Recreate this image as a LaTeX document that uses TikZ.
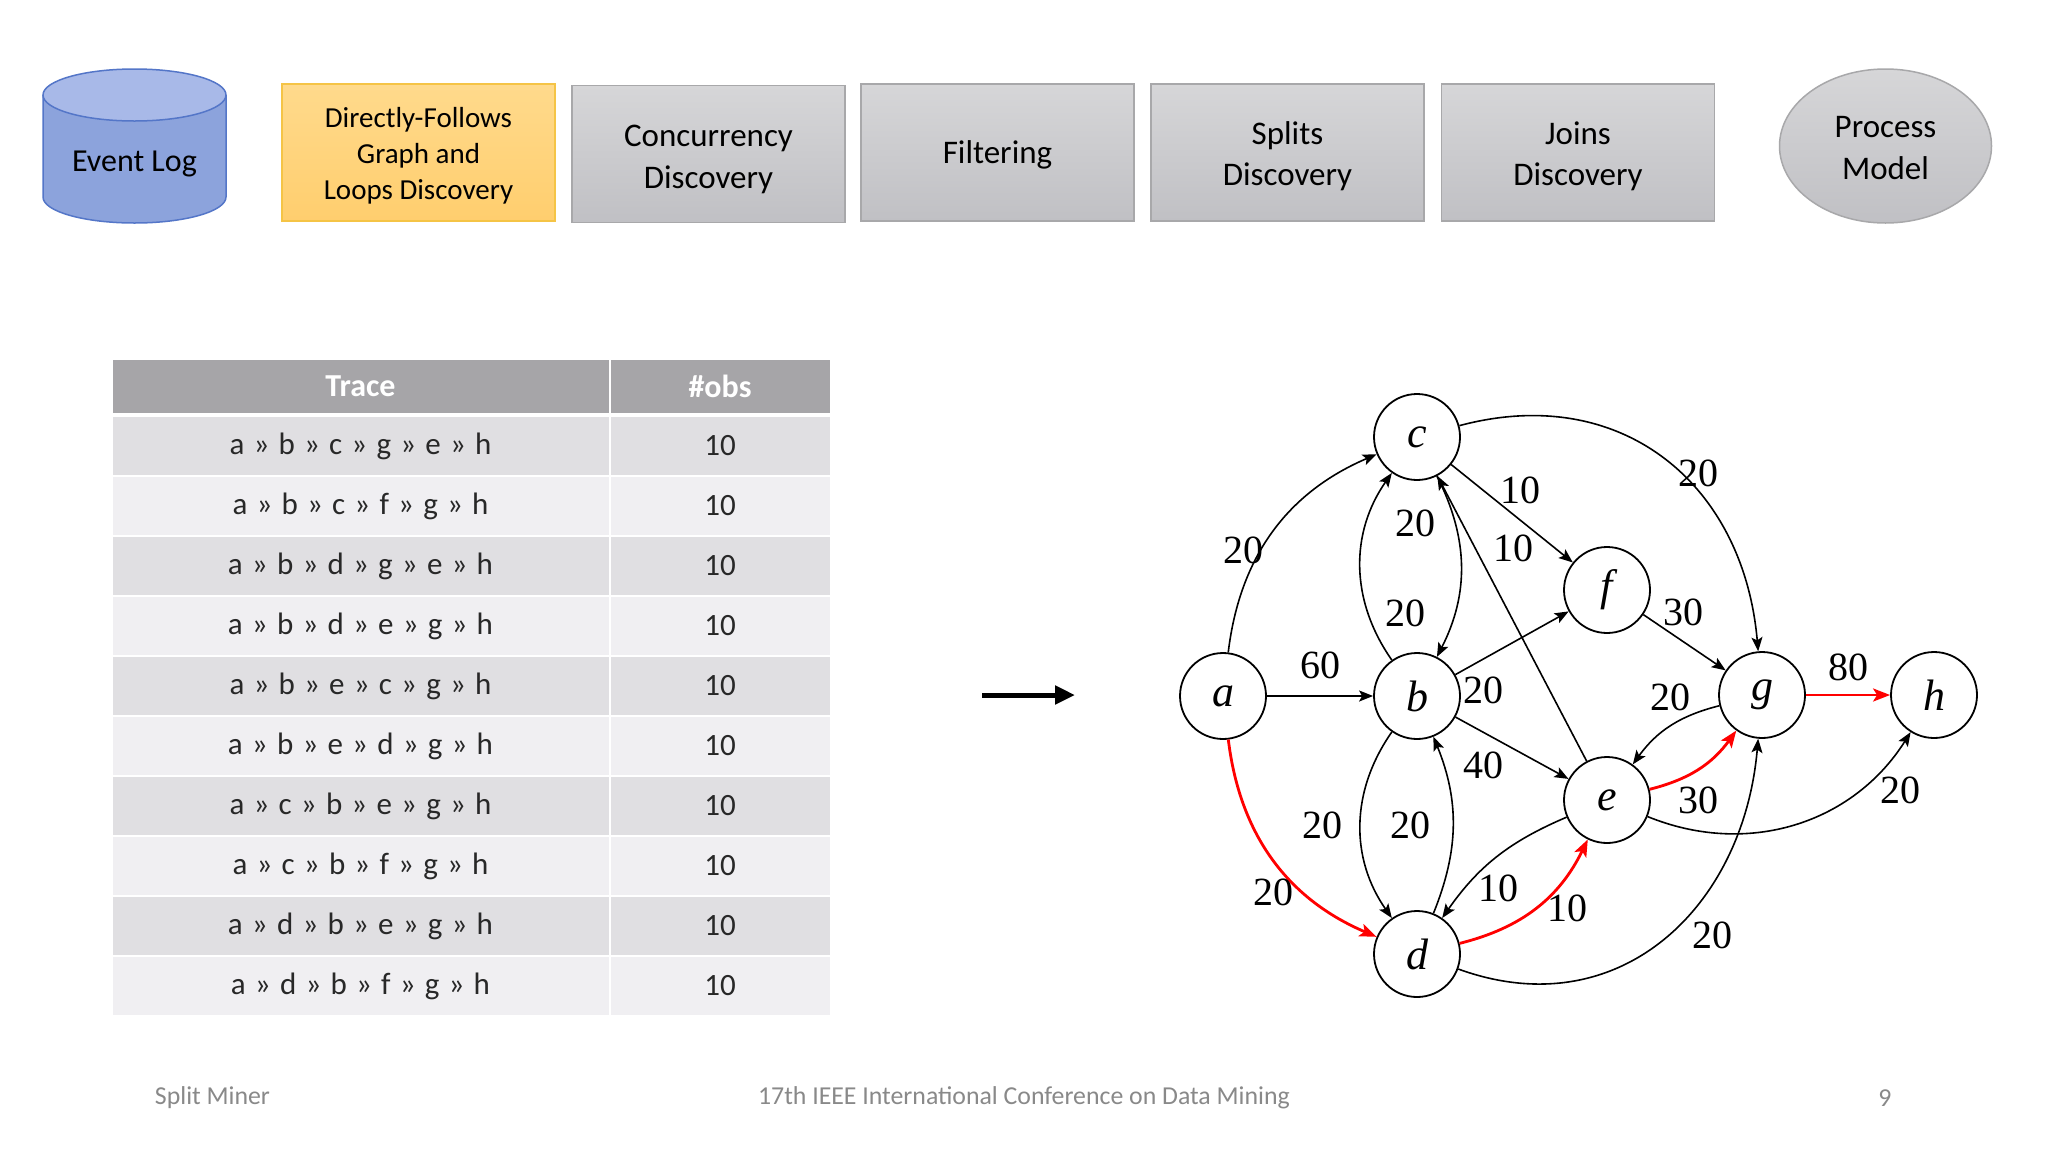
\documentclass[tikz,border=0pt]{standalone}
\usepackage{fontspec}
\setmainfont{Carlito}
\newfontfamily\gfont{Liberation Serif}
\usetikzlibrary{arrows.meta,shapes.geometric,calc}
\definecolor{cylbody}{RGB}{140,163,220}
\definecolor{cyltop}{RGB}{168,185,232}
\definecolor{cylline}{RGB}{84,118,200}
\definecolor{boxtop}{RGB}{214,214,216}
\definecolor{boxbot}{RGB}{192,192,196}
\definecolor{boxline}{RGB}{168,168,170}
\definecolor{yeltop}{RGB}{255,218,140}
\definecolor{yelbot}{RGB}{255,206,110}
\definecolor{yelline}{RGB}{245,196,70}
\definecolor{hdrfill}{RGB}{166,165,168}
\definecolor{rowA}{RGB}{224,223,226}
\definecolor{rowB}{RGB}{240,239,242}
\definecolor{foot}{RGB}{137,137,137}
\definecolor{txt}{RGB}{40,40,40}
\newcommand{\widesp}[1]{\spaceskip=9.2pt\relax #1}
\newcommand{\stx}[2][6pt]{\raisebox{0pt}[\dimexpr\height+#1\relax][\depth]{\begin{tabular}{@{}c@{}}#2\end{tabular}}}
\begin{document}
\begin{tikzpicture}[x=1pt,y=-1pt,
  stage/.style={draw=boxline, line width=1.5pt, top color=boxtop, bottom color=boxbot,
    minimum width=273pt, minimum height=137pt, inner sep=0pt,
    font=\fontsize{33}{41.5}\selectfont, text=black},
  cell/.style={minimum height=58pt, inner sep=0pt, font=\fontsize{31}{31}\selectfont, text=txt},
  hdr/.style={minimum height=53pt, inner sep=0pt, fill=hdrfill, font=\bfseries\fontsize{32}{32}\selectfont, text=white},
  vtx/.style={circle, draw, line width=1.8pt, minimum size=86pt, inner sep=0pt,
    font=\gfont\itshape\fontsize{44}{44}\selectfont},
  lbl/.style={inner sep=0pt, font=\gfont\fontsize{40}{40}\selectfont},
  ed/.style={draw, line width=1.6pt, -{Stealth[length=14pt,width=11pt,inset=3pt]}},
  red/.style={draw=red, line width=2.8pt, -{Stealth[length=17pt,width=13pt,inset=4pt]}},
  ft/.style={inner sep=0pt, text=foot, font=\fontsize{25.8}{25.8}\selectfont}
]
\fill[white] (0,0) rectangle (2048,1152);
\useasboundingbox (0,0) rectangle (2048,1152);

% ---- pipeline ----
\fill[cylbody] (43,95) -- (43,197) arc[start angle=180,end angle=0,x radius=91.5,y radius=26]
  -- (226,95) arc[start angle=0,end angle=180,x radius=91.5,y radius=26] -- cycle;
\draw[cylline, line width=1.5pt] (43,95) -- (43,197) arc[start angle=180,end angle=0,x radius=91.5,y radius=26] -- (226,95);
\filldraw[fill=cyltop, draw=cylline, line width=1.5pt] (134.5,95) ellipse[x radius=91.5, y radius=26];
\node[inner sep=0pt, font=\fontsize{32}{32}\selectfont] (log) at (134.5,164) {Event Log};

\node[stage, draw=yelline, top color=yeltop, bottom color=yelbot, font=\fontsize{29}{36}\selectfont]
  (dfg) at (418.5,152.5) {\stx[7pt]{Directly-Follows\\Graph and\\Loops Discovery}};
\node[stage] (conc) at (708.5,154) {\stx[10pt]{Concurrency\\Discovery}};
\node[stage] (filt) at (997.5,152.5) {\stx[5pt]{Filtering}};
\node[stage] (spl) at (1287.5,152.5) {\stx[8pt]{Splits\\Discovery}};
\node[stage] (joi) at (1578,152.5) {\stx[8pt]{Joins\\Discovery}};
\node[ellipse, draw=boxline, line width=1.5pt, top color=boxtop, bottom color=boxbot,
  minimum width=212pt, minimum height=154pt, inner sep=0pt,
  font=\fontsize{33}{42}\selectfont] (pm) at (1885.5,146) {\stx[8pt]{Process\\Model}};

% ---- table ----
\node[hdr, minimum width=496pt] (h1) at (360.5,386) {Trace};
\node[hdr, minimum width=219pt] (h2) at (720,386) {\#obs};
\foreach \t [count=\i] in {a » b » c » g » e » h, a » b » c » f » g » h, a » b » d » g » e » h,
  a » b » d » e » g » h, a » b » e » c » g » h, a » b » e » d » g » h, a » c » b » e » g » h,
  a » c » b » f » g » h, a » d » b » e » g » h, a » d » b » f » g » h}{
  \pgfmathtruncatemacro{\odd}{mod(\i,2)}
  \ifnum\odd=1 \def\rc{rowA}\else\def\rc{rowB}\fi
  \node[cell, fill=\rc, minimum width=496pt] (t\i) at (360.5,{446+60*(\i-1)}) {\widesp{\t}};
  \node[cell, fill=\rc, minimum width=219pt] (n\i) at (720,{446+60*(\i-1)}) {10};
}

% ---- arrow ----
\coordinate (arS) at (982,695);
\coordinate (arE) at (1075,695);
\draw[line width=5pt, -{Triangle[length=20pt,width=18pt]}] (arS) -- (arE);

% ---- graph ----
\node[vtx] (a) at (1223,696) {a};
\node[vtx] (b) at (1417,696) {b};
\node[vtx] (c) at (1417,437) {c};
\node[vtx] (f) at (1607,590) {f};
\node[vtx] (e) at (1607,800) {e};
\node[vtx] (d) at (1417,954) {d};
\node[vtx] (g) at (1762,695) {g};
\node[vtx] (h) at (1934,695) {h};

\draw[ed] (a) to[bend left=30] (c);
\draw[ed] (a) -- (b);
\draw[red] (a) to[bend right=30] (d);
\draw[ed] (b) to[bend left=35] (c);
\draw[ed] (c) to[bend left=27] (b);
\draw[ed] (e) -- (c);
\draw[ed] (c) -- (f);
\draw[ed] (c) to[out=15,in=95,looseness=1.15] (g);
\draw[ed] (b) -- (f);
\draw[ed] (b) -- (e);
\draw[ed] (b) to[bend right=35] (d);
\draw[ed] (d) to[bend right=22] (b);
\draw[ed] (e) to[bend right=16] (d);
\draw[red] (d) to[bend right=25] (e);
\draw[ed] (d) to[out=-20,in=-95,looseness=1.15] (g);
\draw[red] (e) to[bend right=20] (g);
\draw[ed] (g) to[bend right=20] (e);
\draw[ed] (f) -- (g);
\draw[red] (g) -- (h);
\draw[ed] (e) to[bend right=40] (h);

\node[lbl] (l1) at (1243,550) {20};
\node[lbl] (l2) at (1320,665) {60};
\node[lbl] (l3) at (1273,892) {20};
\node[lbl] (l4) at (1415,523) {20};
\node[lbl] (l5) at (1405,613) {20};
\node[lbl] (l6) at (1520,490) {10};
\node[lbl] (l7) at (1513,548) {10};
\node[lbl] (l8) at (1698,473) {20};
\node[lbl] (l9) at (1483,690) {20};
\node[lbl] (l10) at (1483,765) {40};
\node[lbl] (l11) at (1322,825) {20};
\node[lbl] (l12) at (1410,825) {20};
\node[lbl] (l13) at (1498,888) {10};
\node[lbl] (l14) at (1567,908) {10};
\node[lbl] (l15) at (1683,612) {30};
\node[lbl] (l16) at (1670,697) {20};
\node[lbl] (l17) at (1698,800) {30};
\node[lbl] (l18) at (1848,667) {80};
\node[lbl] (l19) at (1900,790) {20};
\node[lbl] (l20) at (1712,935) {20};

% ---- footer ----
\node[ft] (f1) at (212.5,1098) {Split Miner};
\node[ft] (f2) at (1024,1098) {17th IEEE International Conference on Data Mining};
\node[ft] (f3) at (1885,1098) {9};
\end{tikzpicture}
\end{document}
